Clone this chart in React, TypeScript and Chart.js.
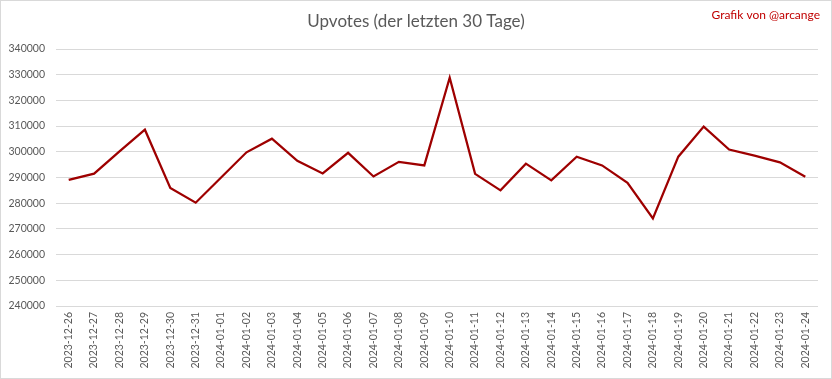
import React, { useEffect, useRef } from "react";
import { Chart, registerables } from "chart.js";

Chart.register(...registerables);

const categories: string[] = [
  "2023-12-26", "2023-12-27", "2023-12-28", "2023-12-29", "2023-12-30", "2023-12-31",
  "2024-01-01", "2024-01-02", "2024-01-03", "2024-01-04", "2024-01-05", "2024-01-06",
  "2024-01-07", "2024-01-08", "2024-01-09", "2024-01-10", "2024-01-11", "2024-01-12",
  "2024-01-13", "2024-01-14", "2024-01-15", "2024-01-16", "2024-01-17", "2024-01-18",
  "2024-01-19", "2024-01-20", "2024-01-21", "2024-01-22", "2024-01-23", "2024-01-24",
];

const upvotes: number[] = [
  289100, 291500, 300200, 308600, 285900, 280200,
  290000, 299800, 305100, 296500, 291600, 299600,
  290400, 296100, 294700, 328800, 291400, 285000,
  295400, 288900, 298100, 294700, 287900, 274100,
  298100, 309800, 300900, 298500, 295900, 290300,
];

const titleText = "Upvotes (der letzten 30 Tage)";
const creditText = "Grafik von @arcange";
const yMin = 240000;
const yMax = 340000;
const yStep = 10000;

const FONT = "Lato, 'Open Sans', sans-serif";

const decorPlugin = {
  id: "decor",
  beforeDraw(chart: any) {
    const ctx = chart.ctx;
    ctx.save();
    ctx.fillStyle = "#ffffff";
    ctx.fillRect(0, 0, chart.width, chart.height);
    ctx.strokeStyle = "#d9d9d9";
    ctx.lineWidth = 1;
    ctx.strokeRect(0.5, 0.5, chart.width - 1, chart.height - 1);
    ctx.restore();
  },
  afterDraw(chart: any) {
    const ctx = chart.ctx;
    ctx.save();
    ctx.textBaseline = "middle";
    ctx.textAlign = "center";
    ctx.fillStyle = "#595959";
    ctx.font = `17px ${FONT}`;
    ctx.fillText(titleText, chart.width / 2, 22);
    ctx.textAlign = "right";
    ctx.fillStyle = "#c00000";
    ctx.font = `12px ${FONT}`;
    ctx.fillText(creditText, 820, 15);
    ctx.restore();
  },
};

export default function App() {
  const canvasRef = useRef<HTMLCanvasElement | null>(null);

  useEffect(() => {
    document.body.style.margin = "0";
    const canvas = canvasRef.current;
    if (!canvas) return;
    const chart = new Chart(canvas, {
      type: "line",
      data: {
        labels: categories,
        datasets: [
          {
            label: "Upvotes",
            data: upvotes,
            borderColor: "#9e0000",
            borderWidth: 2.25,
            pointRadius: 0,
            pointHoverRadius: 0,
            tension: 0,
            fill: false,
          },
        ],
      },
      options: {
        responsive: false,
        animation: false,
        devicePixelRatio: 1,
        layout: { padding: { left: 0, right: 14, top: 49, bottom: 0 } },
        plugins: {
          legend: { display: false },
          title: { display: false },
          tooltip: { enabled: false },
        },
        scales: {
          x: {
            offset: true,
            grid: { display: false, drawTicks: false },
            border: { display: false },
            ticks: {
              autoSkip: false,
              minRotation: 90,
              maxRotation: 90,
              padding: 6,
              color: "#595959",
              font: { family: FONT, size: 10.5 },
            },
            afterFit(scale: any) {
              scale.height = 73;
            },
          },
          y: {
            min: yMin,
            max: yMax,
            grid: { color: "#d9d9d9", lineWidth: 1, drawTicks: false },
            border: { display: false },
            ticks: {
              stepSize: yStep,
              padding: 11,
              color: "#595959",
              font: { family: FONT, size: 10.5 },
              callback: (v: any) => String(v),
            },
            afterFit(scale: any) {
              scale.width = 56;
            },
          },
        },
      },
      plugins: [decorPlugin],
    });
    return () => chart.destroy();
  }, []);

  return (
    <div style={{ width: 832, height: 379 }}>
      <canvas ref={canvasRef} width={832} height={379} style={{ display: "block", width: 832, height: 379 }} />
    </div>
  );
}
